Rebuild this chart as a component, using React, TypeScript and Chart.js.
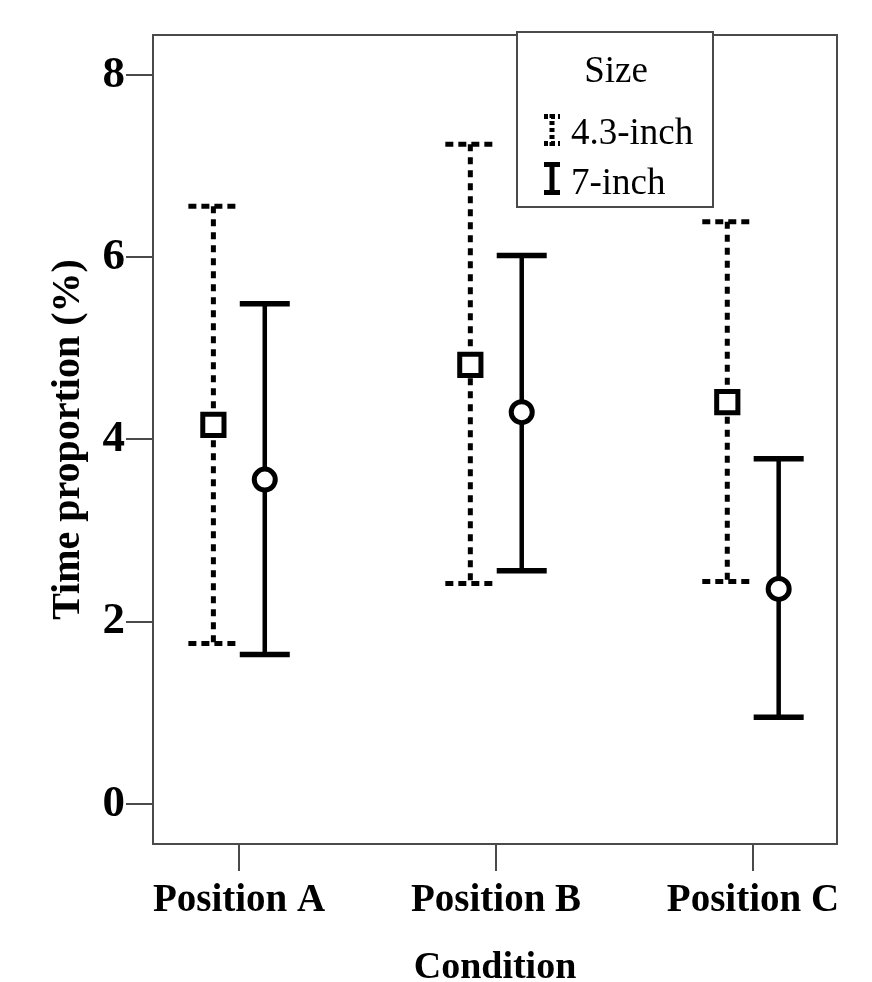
import React, { useEffect, useRef } from 'react';
import { Chart, registerables } from 'chart.js';

Chart.register(...registerables);

const categories = ['Position A', 'Position B', 'Position C'];
const seriesNames = ['4.3-inch', '7-inch'];
const legendTitle = 'Size';
const xTitle = 'Condition';
const yTitle = 'Time proportion (%)';
const yTicks = [0, 2, 4, 6, 8];

const mean43 = [4.16, 4.82, 4.41];
const lower43 = [1.76, 2.42, 2.44];
const upper43 = [6.56, 7.24, 6.39];

const mean7 = [3.56, 4.30, 2.36];
const lower7 = [1.64, 2.56, 0.95];
const upper7 = [5.49, 6.02, 3.79];

const groupOffset = 0.1;
const SERIF = "'Liberation Serif', 'Times New Roman', serif";
const FRAME = '#4a4a4a';

const errorBarPlugin = {
  id: 'errorBars',
  beforeDatasetsDraw(chart: any) {
    const { ctx, chartArea, scales } = chart;
    ctx.save();
    ctx.strokeStyle = FRAME;
    ctx.lineWidth = 2;
    ctx.strokeRect(chartArea.left, chartArea.top, chartArea.right - chartArea.left, chartArea.bottom - chartArea.top);
    ctx.restore();

    chart.data.datasets.forEach((ds: any, di: number) => {
      const meta = chart.getDatasetMeta(di);
      meta.data.forEach((pt: any, i: number) => {
        const x = pt.x;
        const yLo = scales.y.getPixelForValue(ds.errLow[i]);
        const yHi = scales.y.getPixelForValue(ds.errHigh[i]);
        ctx.save();
        ctx.strokeStyle = '#000';
        ctx.lineCap = 'butt';
        ctx.lineWidth = ds.barWidth;
        ctx.setLineDash(ds.dash);
        ctx.beginPath();
        ctx.moveTo(x, yHi);
        ctx.lineTo(x, yLo);
        ctx.stroke();
        ctx.lineWidth = ds.capWidth;
        ctx.setLineDash(ds.capDash);
        const half = 25;
        [yLo, yHi].forEach((yy) => {
          ctx.beginPath();
          ctx.moveTo(x - half, yy);
          ctx.lineTo(x + half, yy);
          ctx.stroke();
        });
        ctx.restore();
      });
    });
  },
  afterDraw(chart: any) {
    const { ctx } = chart;
    ctx.save();
    const bx = 517, by = 32, bw = 196, bh = 175;
    ctx.fillStyle = '#fff';
    ctx.fillRect(bx, by, bw, bh);
    ctx.strokeStyle = FRAME;
    ctx.lineWidth = 2;
    ctx.strokeRect(bx, by, bw, bh);
    ctx.fillStyle = '#000';
    ctx.font = `37px ${SERIF}`;
    ctx.textBaseline = 'alphabetic';
    ctx.textAlign = 'center';
    ctx.fillText(legendTitle, bx + bw / 2 + 1, 82);
    ctx.textAlign = 'left';
    const rows = [
      { y0: 114, y1: 146, base: 144, dash: [4, 3] },
      { y0: 162, y1: 195, base: 194, dash: [] as number[] },
    ];
    chart.data.datasets.forEach((ds: any, di: number) => {
      const r = rows[di];
      const cx = 552;
      ctx.strokeStyle = '#000';
      ctx.lineWidth = 5;
      ctx.setLineDash(r.dash);
      ctx.beginPath();
      ctx.moveTo(cx, r.y0);
      ctx.lineTo(cx, r.y1);
      ctx.stroke();
      ctx.lineWidth = 5;
      ctx.beginPath();
      ctx.moveTo(cx - 8, r.y0 + 2.5);
      ctx.lineTo(cx + 8, r.y0 + 2.5);
      ctx.moveTo(cx - 8, r.y1 - 2.5);
      ctx.lineTo(cx + 8, r.y1 - 2.5);
      ctx.stroke();
      ctx.setLineDash([]);
      ctx.fillText(ds.label, 571, r.base);
    });
    ctx.restore();
  },
};

export default function App() {
  const ref = useRef<HTMLCanvasElement | null>(null);
  useEffect(() => {
    if (!ref.current) return;
    const chart = new Chart(ref.current, {
      type: 'scatter',
      data: {
        datasets: [
          {
            label: seriesNames[0],
            data: mean43.map((y, i) => ({ x: i + 1 - groupOffset, y })),
            pointStyle: 'rect',
            pointRadius: 15,
            pointBorderWidth: 5,
            borderColor: '#000',
            backgroundColor: '#fff',
            errLow: lower43,
            errHigh: upper43,
            dash: [7, 6],
            capDash: [8, 5],
            barWidth: 5,
            capWidth: 5,
          } as any,
          {
            label: seriesNames[1],
            data: mean7.map((y, i) => ({ x: i + 1 + groupOffset, y })),
            pointStyle: 'circle',
            pointRadius: 10.5,
            pointBorderWidth: 5,
            borderColor: '#000',
            backgroundColor: '#fff',
            errLow: lower7,
            errHigh: upper7,
            dash: [],
            capDash: [],
            barWidth: 4.5,
            capWidth: 5.5,
          } as any,
        ],
      },
      options: {
        responsive: false,
        animation: false,
        layout: { padding: { top: 35, right: 35, left: 0, bottom: 0 } },
        plugins: { legend: { display: false }, tooltip: { enabled: false } },
        scales: {
          x: {
            type: 'linear',
            position: 'bottom',
            min: 0.665,
            max: 3.327,
            afterBuildTicks: (s: any) => {
              s.ticks = categories.map((_, i) => ({ value: i + 1 }));
            },
            afterFit: (s: any) => {
              s.height = 138;
            },
            grid: {
              display: true,
              drawOnChartArea: false,
              drawTicks: true,
              tickLength: 27,
              color: FRAME,
              lineWidth: 2,
            },
            border: { display: false },
            ticks: {
              autoSkip: false,
              maxRotation: 0,
              padding: 7,
              color: '#000',
              font: { family: SERIF, size: 39, weight: 'bold' },
              callback: (v: any) => categories[Math.round(v) - 1] ?? '',
            },
            title: {
              display: true,
              text: xTitle,
              color: '#000',
              font: { family: SERIF, size: 38, weight: 'bold', lineHeight: '24px' },
              padding: { top: 0, bottom: 2 },
            },
          },
          y: {
            type: 'linear',
            min: -0.44,
            max: 8.44,
            afterBuildTicks: (s: any) => {
              s.ticks = yTicks.map((v) => ({ value: v }));
            },
            afterFit: (s: any) => {
              s.width = 153;
            },
            grid: {
              display: true,
              drawOnChartArea: false,
              drawTicks: true,
              tickLength: 27,
              color: FRAME,
              lineWidth: 2,
            },
            border: { display: false },
            ticks: {
              padding: 1,
              color: '#000',
              font: { family: SERIF, size: 45, weight: 'bold' },
              callback: (v: any) => String(v),
            },
            title: {
              display: true,
              text: yTitle,
              color: '#000',
              font: { family: SERIF, size: 40, weight: 'bold', lineHeight: 1.2 },
              padding: { top: 45, bottom: 0 },
            },
          },
        },
      },
      plugins: [errorBarPlugin],
    });
    return () => chart.destroy();
  }, []);
  return (
    <div style={{ position: 'absolute', left: 0, top: 0, width: 872, height: 982, background: '#fff' }}>
      <canvas ref={ref} width={872} height={982} style={{ display: 'block' }} />
    </div>
  );
}
